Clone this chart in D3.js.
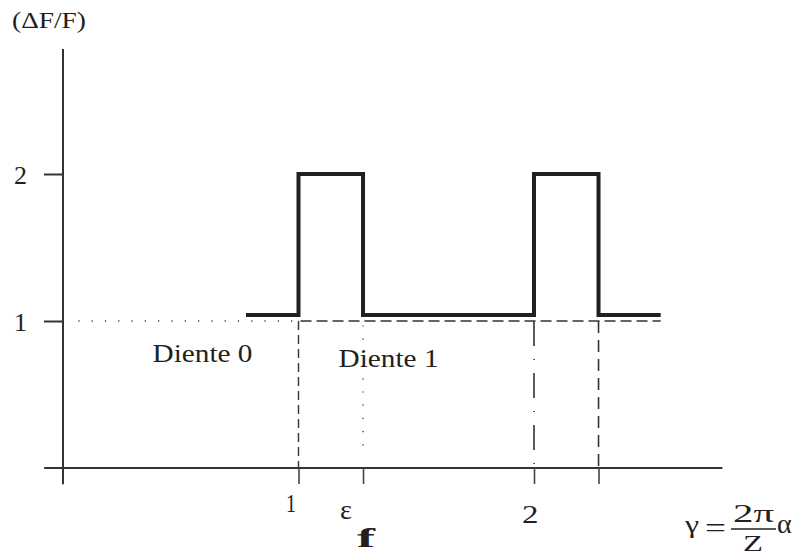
<!DOCTYPE html>
<html>
<head>
<meta charset="utf-8">
<script src="https://cdn.jsdelivr.net/npm/d3@7/dist/d3.min.js"></script>
<style>
  html, body { margin: 0; padding: 0; background: #fff; }
  svg { display: block; }
  text { font-family: "Liberation Serif", "Times New Roman", serif; fill: #231f20; }
</style>
</head>
<body>
<svg id="chart" width="803" height="556"></svg>
<script>
// Tooth passage signal: relative force jump vs. normalised angle
const eps = 1.274;                       // end of the double-contact zone (ε_f)
const stepX = [0.777, 1, eps, 2, eps + 1, 2.538];
const stepY = [1.04, 2, 1.04, 2, 1.04, 1.04];
const yTicks = [1, 2];
const yTickLabels = ["1", "2"];
const xTicks = [1, eps, 2, eps + 1];
const toothLabels = ["Diente 0", "Diente 1"];
const toothLabelX = [0.38, 1.17];

const svg = d3.select("#chart");
const ink = "#231f20";

const x = d3.scaleLinear().domain([0, 2]).range([63, 534]);
const y = d3.scaleLinear().domain([0, 2]).range([468, 174]);

// axis extents (slightly past the origin so the axes cross)
const xMin = -0.08, xMax = 2.8;
const yMin = -0.11, yMax = 2.85;

// horizontal axis
svg.append("line")
  .attr("x1", x(xMin)).attr("x2", x(xMax))
  .attr("y1", y(0)).attr("y2", y(0))
  .attr("stroke", "#333").attr("stroke-width", 2);
// vertical axis
svg.append("line")
  .attr("x1", x(0)).attr("x2", x(0))
  .attr("y1", y(yMin)).attr("y2", y(yMax))
  .attr("stroke", "#333").attr("stroke-width", 2);

// y ticks via axis generator
const yAxis = d3.axisLeft(y).tickValues(yTicks).tickSize(19).tickSizeOuter(0)
  .tickPadding(17).tickFormat((d, i) => yTickLabels[i]);
const gy = svg.append("g").attr("transform", `translate(${x(0)},0)`).call(yAxis);
gy.select(".domain").remove();
gy.selectAll(".tick line").attr("stroke", "#333").attr("stroke-width", 2);
gy.selectAll(".tick text").attr("font-size", 26).attr("fill", ink)
  .attr("font-family", "Liberation Serif, serif").attr("dy", "0.35em");

// x ticks via axis generator
const xAxis = d3.axisBottom(x).tickValues(xTicks).tickSize(16).tickSizeOuter(0).tickFormat("");
const gx = svg.append("g").attr("transform", `translate(0,${y(0)})`).call(xAxis);
gx.select(".domain").remove();
gx.selectAll(".tick line").attr("stroke", "#444").attr("stroke-width", 1.6);

// reference level 1: dotted before the first tooth, dashed after
svg.append("line")
  .attr("x1", x(0.065)).attr("x2", x(1)).attr("y1", y(1)).attr("y2", y(1))
  .attr("stroke", "#333").attr("stroke-width", 1.3).attr("stroke-dasharray", "1.2,12.1");
svg.append("line")
  .attr("x1", x(1) + 2).attr("x2", x(2.538)).attr("y1", y(1)).attr("y2", y(1))
  .attr("stroke", "#333").attr("stroke-width", 1.6).attr("stroke-dasharray", "11,5");

// vertical guides
const guides = [
  { v: 1, y0: 1, y1: 0, dash: "9,5", w: 1.4 },
  { v: eps, y0: 0.97, y1: 0.09, dash: "1.2,12", w: 1.3 },
  { v: 2, y0: 1, y1: 0, dash: "25,13,1,13", w: 1.6 },
  { v: eps + 1, y0: 1, y1: 0, dash: "12,7", w: 1.6 }
];
svg.selectAll("line.guide").data(guides).enter().append("line")
  .attr("class", "guide")
  .attr("x1", d => x(d.v)).attr("x2", d => x(d.v))
  .attr("y1", d => y(d.y0)).attr("y2", d => y(d.y1))
  .attr("stroke", "#333").attr("stroke-width", d => d.w)
  .attr("stroke-dasharray", d => d.dash);

// step signal
const line = d3.line().x(d => x(d[0])).y(d => y(d[1])).curve(d3.curveStepAfter);
svg.append("path")
  .datum(stepX.map((v, i) => [v, stepY[i]]))
  .attr("d", line)
  .attr("fill", "none").attr("stroke", ink).attr("stroke-width", 4)
  .attr("stroke-linejoin", "miter");

// helper for the slightly wide typeset labels
function label(txt, px, py, size, width, opts = {}) {
  const t = svg.append("text")
    .attr("x", px).attr("y", py)
    .attr("font-size", size)
    .text(txt);
  if (width) t.attr("textLength", width).attr("lengthAdjust", "spacingAndGlyphs");
  if (opts.weight) t.attr("font-weight", opts.weight);
  if (opts.style) t.attr("font-style", opts.style);
  return t;
}

// axis title
label("(\u0394F/F)", 12, 28, 23, 74);

// tooth labels
label(toothLabels[0], x(toothLabelX[0]), 362, 25, 100);
label(toothLabels[1], x(toothLabelX[1]), 367, 25, 100);

// x tick labels
label("1", 286, 512, 25, 10);
label("2", 522, 523, 26, 16.5);
label("\u03b5", 340, 519, 27, 12);
label("f", 357, 547, 28, 18, { weight: "600" });

// γ = (2π / Z) α
label("\u03b3", 685, 533, 25, 14);
label("=", 705, 537, 27, 21);
label("2\u03c0", 733, 522, 25, 41);
svg.append("line").attr("x1", 731).attr("x2", 776).attr("y1", 529).attr("y2", 529)
  .attr("stroke", ink).attr("stroke-width", 1.3);
label("Z", 743, 551, 23, 20);
label("\u03b1", 777, 533, 28, null);
</script>
</body>
</html>
